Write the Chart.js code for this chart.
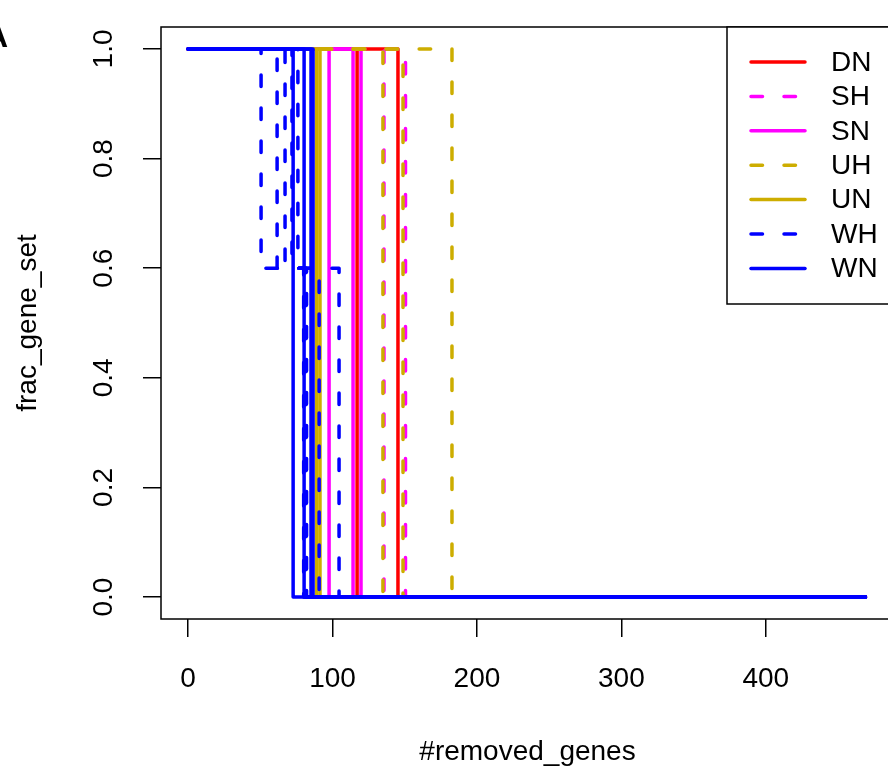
<!DOCTYPE html>
<html>
<head>
<meta charset="utf-8">
<script src="https://cdn.jsdelivr.net/npm/chart.js@4"></script>
<style>
  body { margin: 0; overflow: hidden; background: #fff; }
  #wrap { position: relative; width: 900px; height: 772px; }
</style>
</head>
<body>
<div id="wrap"><canvas id="chart"></canvas></div>
<script>
// data
var groups = ['DN', 'SH', 'SN', 'UH', 'UN', 'WH', 'WN'];
var xTicks = [0, 100, 200, 300, 400];
var yTicks = [0, 0.2, 0.4, 0.6, 0.8, 1.0];
var xLast = 469;
// x where each run falls from 1 to 0
var dnDrops = [117, 145.3];
var shDrops = [135.6, 150.5];
var snDrops = [97.6, 114.2, 119.7];
var uhDrops = [134.9, 148.8, 182.7];
var unDrops = [89, 91.3];
var wnDrops = [72.7, 80.3, 85.1, 86.5];
// WH runs fall to 0.6 first, then to 0
var whMid = 0.6;
var whFirst = [50.5, 61.6, 67.1, 71.9, 76];
var whSecond = [104.5, 80, 81.5, 90.7, 82];

var groupColors = ['#FF0000', '#FF00FF', '#FF00FF', '#CDAD00', '#CDAD00', '#0000FF', '#0000FF'];
var groupDashed = [false, true, false, true, false, true, false];
var dash = [11.5, 21.5];
var FONT = 'Liberation Sans';

var runs = {
    DN: dnDrops.map(function(d){ return [[0, 1], [d, 0], [xLast, 0]]; }),
    SH: shDrops.map(function(d){ return [[0, 1], [d, 0], [xLast, 0]]; }),
    SN: snDrops.map(function(d){ return [[0, 1], [d, 0], [xLast, 0]]; }),
    UH: uhDrops.map(function(d){ return [[0, 1], [d, 0], [xLast, 0]]; }),
    UN: unDrops.map(function(d){ return [[0, 1], [d, 0], [xLast, 0]]; }),
    WH: whFirst.map(function(d, i){ return [[0, 1], [d, whMid], [whSecond[i], 0], [xLast, 0]]; }),
    WN: wnDrops.map(function(d){ return [[0, 1], [d, 0], [xLast, 0]]; })
};

var datasets = [];
groups.forEach(function(g, gi){
    runs[g].forEach(function(pts){
        datasets.push({
            label: g,
            data: pts.map(function(p){ return {x: p[0], y: p[1]}; }),
            borderColor: groupColors[gi],
            borderWidth: 3.5,
            borderDash: groupDashed[gi] ? dash : [],
            borderCapStyle: 'round',
            borderJoinStyle: 'round',
            pointRadius: 0,
            fill: false,
            stepped: 'before',
            order: groups.length - gi
        });
    });
});

var boxPlugin = {
    id: 'rbox',
    afterDraw: function(chart){
        var ctx = chart.ctx, a = chart.chartArea;
        ctx.save();
        ctx.strokeStyle = '#000';
        ctx.lineWidth = 1.5;
        ctx.strokeRect(a.left, a.top, a.right - a.left, a.bottom - a.top);

        // legend, top right
        var lx = 727, ly = a.top;
        ctx.fillStyle = '#fff';
        ctx.fillRect(lx, ly, a.right - lx, 277);
        ctx.strokeRect(lx, ly, a.right - lx, 277);
        ctx.font = '28px "' + FONT + '"';
        ctx.textBaseline = 'middle';
        ctx.textAlign = 'left';
        groups.forEach(function(g, i){
            var y = ly + 35 + i * 34.4;
            ctx.beginPath();
            ctx.strokeStyle = groupColors[i];
            ctx.lineWidth = 3.5;
            ctx.lineCap = 'round';
            ctx.setLineDash(groupDashed[i] ? dash : []);
            ctx.moveTo(751, y);
            ctx.lineTo(805, y);
            ctx.stroke();
            ctx.setLineDash([]);
            ctx.fillStyle = '#000';
            ctx.fillText(g, 831, y + 1);
        });

        // cut-off panel letter
        ctx.font = 'bold 32px "' + FONT + '"';
        ctx.textAlign = 'right';
        ctx.textBaseline = 'alphabetic';
        ctx.fillText('A', 8, 47);
        ctx.restore();
    }
};

function noOverhang(s){
    s.paddingTop = 0; s.paddingBottom = 0;
    s.paddingLeft = 0; s.paddingRight = 0;
}

new Chart(document.getElementById('chart'), {
    type: 'line',
    data: { datasets: datasets },
    options: {
        responsive: true,
        maintainAspectRatio: false,
        animation: false,
        devicePixelRatio: 1,
        layout: { padding: { left: 0, top: 27, right: 6, bottom: 0 } },
        plugins: { legend: { display: false }, tooltip: { enabled: false } },
        scales: {
            x: {
                type: 'linear',
                min: -18.8,
                max: 488.8,
                afterBuildTicks: function(s){ s.ticks = xTicks.map(function(v){ return {value: v}; }); },
                afterFit: function(s){ s.height = 153; noOverhang(s); },
                border: { display: false },
                grid: { drawOnChartArea: false, drawTicks: true, tickLength: 18, color: '#000', lineWidth: 1.5 },
                ticks: { color: '#000', font: { family: FONT, size: 28 }, padding: 25, maxRotation: 0, autoSkip: false },
                title: { display: true, text: '#removed_genes', color: '#000', font: { family: FONT, size: 28 }, padding: { top: 0, bottom: 3 } }
            },
            y: {
                type: 'linear',
                min: -0.04,
                max: 1.04,
                afterBuildTicks: function(s){ s.ticks = yTicks.map(function(v){ return {value: v}; }); },
                afterFit: function(s){ s.width = 161; noOverhang(s); },
                border: { display: false },
                grid: { drawOnChartArea: false, drawTicks: true, tickLength: 18, color: '#000', lineWidth: 1.5 },
                ticks: {
                    color: '#000', font: { family: FONT, size: 28 }, padding: 19,
                    minRotation: 90, maxRotation: 90, crossAlign: 'center', autoSkip: false,
                    callback: function(v){ return v.toFixed(1); }
                },
                title: { display: true, text: 'frac_gene_set', color: '#000', font: { family: FONT, size: 28 }, padding: { top: 11, bottom: 0 } }
            }
        }
    },
    plugins: [boxPlugin]
});
</script>
</body>
</html>
